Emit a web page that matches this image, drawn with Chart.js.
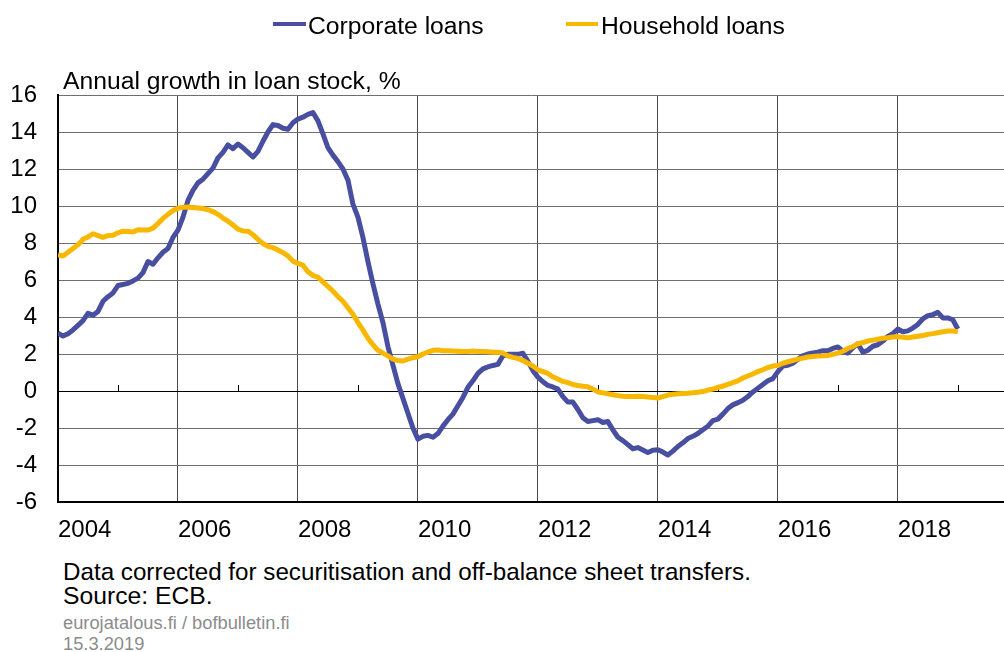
<!DOCTYPE html>
<html>
<head>
<meta charset="utf-8">
<script src="https://cdn.jsdelivr.net/npm/chart.js@4"></script>
<style>
    body { margin: 0; background: #fff; font-family: "Liberation Sans", Arial, sans-serif; }
    #page { position: relative; width: 1004px; height: 652px; overflow: hidden; }
    #chartBox { position: absolute; left: 0; top: 0; width: 1004px; height: 545px; }
    .txt { position: absolute; left: 63px; white-space: nowrap; line-height: 1; color: #000; }
    .legend-line { position: absolute; top: 22px; height: 4px; }
    .legend-text { position: absolute; top: 14px; font-size: 24.7px; line-height: 1; white-space: nowrap; }
</style>
</head>
<body>
<div id="page">
    <div id="chartBox"><canvas id="loanChart"></canvas></div>

    <div class="legend-line" style="left:273px; width:33px; background:#484fa1"></div>
    <div class="legend-text" style="left:308px">Corporate loans</div>
    <div class="legend-line" style="left:566px; width:32px; background:#f8b800"></div>
    <div class="legend-text" style="left:601px">Household loans</div>

    <div class="txt" style="top:69px; font-size:24.7px;">Annual growth in loan stock, %</div>

    <div class="txt" style="top:560px; font-size:24.2px;">Data corrected for securitisation and off-balance sheet transfers.</div>
    <div class="txt" style="top:584px; font-size:24.7px;">Source: ECB.</div>
    <div class="txt" style="top:614px; font-size:18.3px; color:#8c8c8c;">eurojatalous.fi / bofbulletin.fi</div>
    <div class="txt" style="top:635px; font-size:18.3px; color:#8c8c8c;">15.3.2019</div>
</div>

<script>
// Monthly data, Jan 2004 .. Jan 2019 (annual growth in loan stock, %)
const startYear = 2004;

const corporate = [
    3.13, 2.97, 3.1, 3.3, 3.55, 3.8, 4.2, 4.1, 4.3, 4.85, 5.1, 5.3,
    5.7, 5.76, 5.82, 5.95, 6.1, 6.4, 7.0, 6.85, 7.2, 7.5, 7.7, 8.3,
    8.7, 9.4, 10.3, 10.85, 11.25, 11.45, 11.75, 12.05, 12.6, 12.9, 13.3, 13.1,
    13.35, 13.15, 12.9, 12.65, 12.95, 13.5, 14.0, 14.4, 14.35, 14.2, 14.15, 14.5,
    14.7, 14.8, 14.95, 15.05, 14.6, 13.9, 13.15, 12.75, 12.4, 12.0, 11.4, 10.1,
    9.4, 8.3, 7.0, 5.8, 4.7, 3.7, 2.4, 1.4, 0.4, -0.4, -1.2, -2.0,
    -2.6, -2.45, -2.4, -2.5, -2.3, -1.9, -1.55, -1.25, -0.8, -0.35, 0.2, 0.55,
    0.95, 1.2, 1.3, 1.38, 1.44, 1.9, 1.98, 1.98, 1.98, 2.04, 1.6, 1.1,
    0.75, 0.5, 0.3, 0.22, 0.1, -0.3, -0.6, -0.6, -1.0, -1.45, -1.65, -1.6,
    -1.55, -1.7, -1.65, -2.1, -2.5, -2.68, -2.9, -3.12, -3.06, -3.19, -3.33, -3.2,
    -3.17, -3.3, -3.46, -3.25, -3.0, -2.8, -2.57, -2.45, -2.3, -2.1, -1.9, -1.6,
    -1.52, -1.25, -0.95, -0.75, -0.63, -0.5, -0.3, -0.05, 0.15, 0.35, 0.55, 0.67,
    1.05, 1.35, 1.39, 1.5, 1.71, 1.9, 2.0, 2.05, 2.1, 2.18, 2.17, 2.3,
    2.38, 2.15, 2.05, 2.34, 2.55, 2.1, 2.2, 2.42, 2.5, 2.7, 2.95, 3.1,
    3.35, 3.2, 3.25, 3.4, 3.6, 3.9, 4.07, 4.13, 4.25, 3.95, 3.95, 3.85,
    3.35
];

const household = [
    7.36, 7.3, 7.5, 7.7, 7.9, 8.2, 8.33, 8.5, 8.4, 8.3, 8.4, 8.42,
    8.55, 8.64, 8.62, 8.6, 8.72, 8.7, 8.7, 8.8, 9.05, 9.33, 9.55, 9.75,
    9.88, 9.93, 9.95, 9.92, 9.89, 9.86, 9.8, 9.7, 9.55, 9.35, 9.18, 8.97,
    8.75, 8.65, 8.64, 8.45, 8.2, 7.97, 7.82, 7.75, 7.62, 7.48, 7.3, 7.02,
    6.9, 6.8, 6.45, 6.25, 6.15, 5.9, 5.65, 5.4, 5.1, 4.85, 4.5, 4.15,
    3.7, 3.3, 2.85, 2.5, 2.2, 2.05, 1.9, 1.72, 1.65, 1.62, 1.72, 1.8,
    1.85, 2.0, 2.1, 2.2, 2.22, 2.18, 2.17, 2.16, 2.15, 2.13, 2.14, 2.16,
    2.14, 2.13, 2.12, 2.1, 2.09, 2.05, 1.9, 1.82, 1.76, 1.65, 1.5, 1.35,
    1.15, 1.05, 0.95, 0.76, 0.65, 0.52, 0.45, 0.35, 0.3, 0.26, 0.23, 0.1,
    -0.05, -0.1, -0.15, -0.2, -0.25, -0.28, -0.3, -0.3, -0.29, -0.3, -0.32, -0.35,
    -0.38, -0.3, -0.22, -0.18, -0.15, -0.13, -0.12, -0.1, -0.07, -0.03, 0.05, 0.1,
    0.2, 0.26, 0.36, 0.45, 0.55, 0.7, 0.81, 0.92, 1.05, 1.15, 1.27, 1.35,
    1.38, 1.5, 1.58, 1.65, 1.72, 1.78, 1.84, 1.87, 1.89, 1.9, 1.92, 1.98,
    2.05, 2.15, 2.3, 2.4, 2.55, 2.62, 2.7, 2.75, 2.8, 2.85, 2.88, 2.92,
    2.94, 2.9, 2.88, 2.92, 2.96, 3.0, 3.06, 3.1, 3.15, 3.2, 3.24, 3.24,
    3.2
];

const yearTicks = [2004, 2006, 2008, 2010, 2012, 2014, 2016, 2018];
const minorTickYears = [2005, 2007, 2009, 2011, 2013, 2015, 2017, 2019];
const yMin = -6, yMax = 16, yStep = 2;

function toPoints(values) {
    return values.map((v, i) => ({ x: startYear + i / 12, y: v }));
}

// short tick marks on the zero line at odd years
const zeroLineTicks = {
    id: 'zeroLineTicks',
    beforeDatasetsDraw(chart) {
        const xs = chart.scales.x, ys = chart.scales.y;
        const ctx = chart.ctx;
        const y0 = ys.getPixelForValue(0);
        ctx.save();
        ctx.strokeStyle = '#000';
        ctx.lineWidth = 1;
        minorTickYears.forEach(yr => {
            const px = Math.round(xs.getPixelForValue(yr)) + 0.5;
            if (px > chart.chartArea.right) return;
            ctx.beginPath();
            ctx.moveTo(px, y0);
            ctx.lineTo(px, y0 - 6);
            ctx.stroke();
        });
        ctx.restore();
    }
};

document.addEventListener('DOMContentLoaded', function() {
    const ctx = document.getElementById('loanChart').getContext('2d');
    const font = { family: '"Liberation Sans", Arial, sans-serif', size: 24 };

    new Chart(ctx, {
        type: 'line',
        data: {
            datasets: [
                {
                    label: 'Corporate loans',
                    data: toPoints(corporate),
                    borderColor: '#484fa1',
                    borderWidth: 5,
                    pointRadius: 0,
                    tension: 0,
                    borderJoinStyle: 'round',
                    order: 1
                },
                {
                    label: 'Household loans',
                    data: toPoints(household),
                    borderColor: '#f8b800',
                    borderWidth: 5,
                    pointRadius: 0,
                    tension: 0,
                    borderJoinStyle: 'round',
                    order: 0
                }
            ]
        },
        options: {
            responsive: true,
            maintainAspectRatio: false,
            animation: false,
            layout: { padding: { top: 95, right: 0, left: 0, bottom: 0 } },
            plugins: {
                legend: { display: false },
                tooltip: { enabled: false }
            },
            scales: {
                x: {
                    type: 'linear',
                    min: 2004,
                    max: 2019.77,
                    afterBuildTicks: scale => { scale.ticks = yearTicks.map(v => ({ value: v })); },
                    afterFit: scale => { scale.height = 43; },
                    grid: { color: '#4a4a4a', lineWidth: 1, drawTicks: false },
                    border: { color: '#000', width: 2 },
                    ticks: {
                        align: 'start',
                        padding: 14,
                        color: '#000',
                        font: font,
                        maxRotation: 0,
                        autoSkip: false,
                        callback: v => String(v)
                    }
                },
                y: {
                    min: yMin,
                    max: yMax,
                    afterFit: scale => { scale.width = 58; },
                    grid: {
                        color: c => (c.tick.value === 0 || c.tick.value === yMin) ? '#000' : '#6e6e6e',
                        lineWidth: c => (c.tick.value === yMin ? 2 : 1),
                        drawTicks: false
                    },
                    border: { color: '#000', width: 2 },
                    ticks: {
                        stepSize: yStep,
                        padding: 21,
                        color: '#000',
                        font: font
                    }
                }
            }
        },
        plugins: [zeroLineTicks]
    });
});
</script>
</body>
</html>
